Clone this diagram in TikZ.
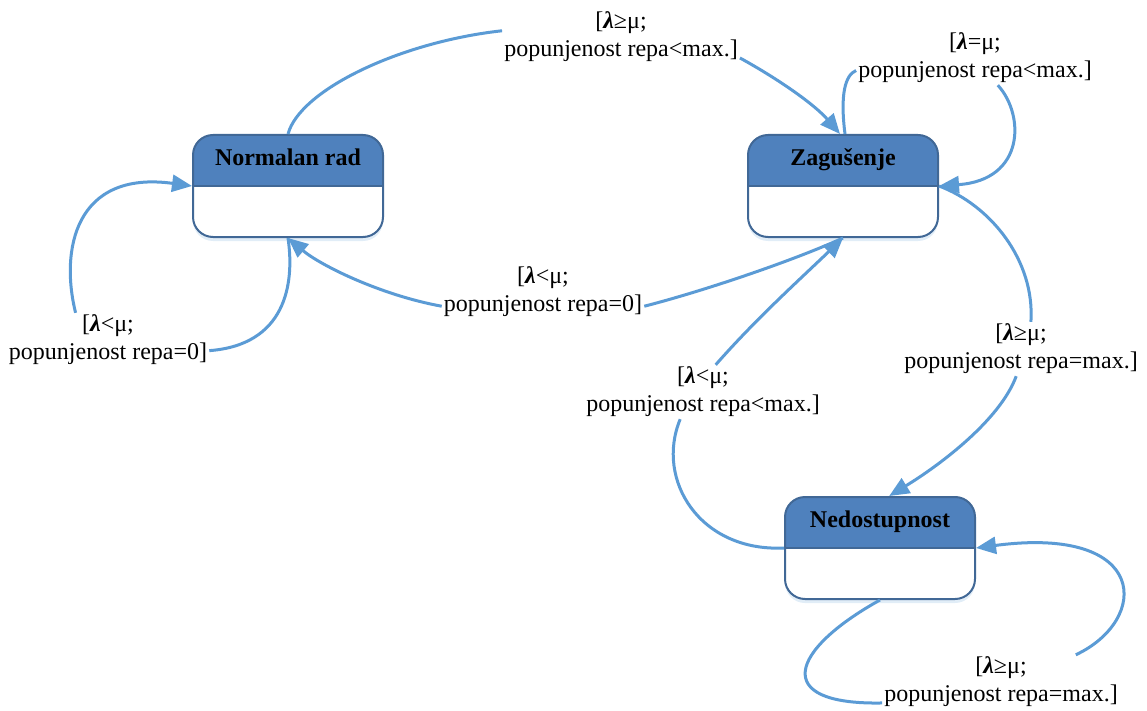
\documentclass[tikz,border=0pt]{standalone}
\usepackage{fontspec}
\setmainfont{Liberation Serif}
\usetikzlibrary{arrows.meta,shadows}

\definecolor{headfill}{RGB}{79,129,189}
\definecolor{stateborder}{RGB}{65,104,150}
\definecolor{flowblue}{RGB}{91,155,213}

\tikzset{
    statebox/.style={draw=stateborder, line width=2pt, rounded corners=20pt,
        minimum width=190pt, minimum height=102pt, fill=white,
        drop shadow={shadow xshift=0pt, shadow yshift=-4pt, opacity=0.18, fill=flowblue},
        path picture={
            \fill[headfill, sharp corners] (path picture bounding box.north west) rectangle (path picture bounding box.east);
            \draw[stateborder, line width=1.6pt, sharp corners] (path picture bounding box.west) -- (path picture bounding box.east);
        }},
    statetitle/.style={font=\fontsize{24}{28}\selectfont\bfseries, text height=16pt, text depth=5pt, inner sep=0pt},
    guard/.style={align=center, font=\fontsize{24}{28}\selectfont, inner sep=2pt},
    flow/.style={draw=flowblue, line width=3pt, -{Triangle[length=20pt,width=17pt]}},
    flowline/.style={draw=flowblue, line width=3pt}
}

\newcommand{\lam}{\textbf{\textit{λ}}}

\begin{document}
\begin{tikzpicture}[x=1pt, y=-1pt]
    \useasboundingbox (0,0) rectangle (1147,711);

    % Draw the states
    \node[statebox, label={[statetitle, yshift=26pt]center:Normalan rad}] (nr) at (288,186) {};
    \node[statebox, label={[statetitle, yshift=26pt]center:Zagušenje}] (zg) at (843,186) {};
    \node[statebox, label={[statetitle, yshift=26pt]center:Nedostupnost}] (ned) at (880,548) {};

    % Draw the guard labels
    \node[guard] (l1) at (621,37) {[\lam≥μ;\\popunjenost repa<max.]};
    \node[guard] (lzg) at (975,58) {[\lam=μ;\\popunjenost repa<max.]};
    \node[guard] (lnr) at (108,340) {[\lam<μ;\\popunjenost repa=0]};
    \node[guard] (lmid) at (543,292) {[\lam<μ;\\popunjenost repa=0]};
    \node[guard] (l5) at (703,392) {[\lam<μ;\\popunjenost repa<max.]};
    \node[guard] (l6) at (1021,349) {[\lam≥μ;\\popunjenost repa=max.]};
    \node[guard] (l7) at (1001,682) {[\lam≥μ;\\popunjenost repa=max.]};

    % Normalan rad -> Zagusenje
    \draw[flowline] (nr.north) .. controls (300,90) and (400,42) .. (l1.177);
    \draw[flow] (l1.-10) .. controls (780,80) and (815,105) .. ([xshift=-3pt]zg.north);

    % Zagusenje self loop
    \draw[flowline] ([xshift=2pt]zg.north) .. controls (840,95) and (845,75) .. (lzg.186);
    \draw[flow] (lzg.-50) .. controls (1025,115) and (1025,180) .. (zg.east);

    % Normalan rad self loop
    \draw[flowline] (nr.south) .. controls (295,285) and (285,345) .. (lnr.-6);
    \draw[flow] (lnr.140) .. controls (60,250) and (75,170) .. (nr.west);

    % Zagusenje -> Normalan rad
    \draw[flowline] (zg.south) .. controls (790,262) and (700,292) .. (lmid.-8);
    \draw[flow] (lmid.188) .. controls (380,295) and (320,265) .. (nr.south);

    % Nedostupnost -> Zagusenje
    \draw[flowline] (ned.west) .. controls (700,552) and (655,480) .. (l5.230);
    \draw[flow] (l5.65) .. controls (755,320) and (797,282) .. (zg.south);

    % Zagusenje -> Nedostupnost
    \draw[flowline] (zg.east) .. controls (990,205) and (1035,260) .. (l6.70);
    \draw[flow] (l6.-100) .. controls (1000,420) and (940,465) .. (ned.80);

    % Nedostupnost self loop
    \draw[flowline] (ned.south) .. controls (790,650) and (770,705) .. (l7.190);
    \draw[flow] (l7.20) .. controls (1150,620) and (1150,525) .. (ned.east);
\end{tikzpicture}
\end{document}
